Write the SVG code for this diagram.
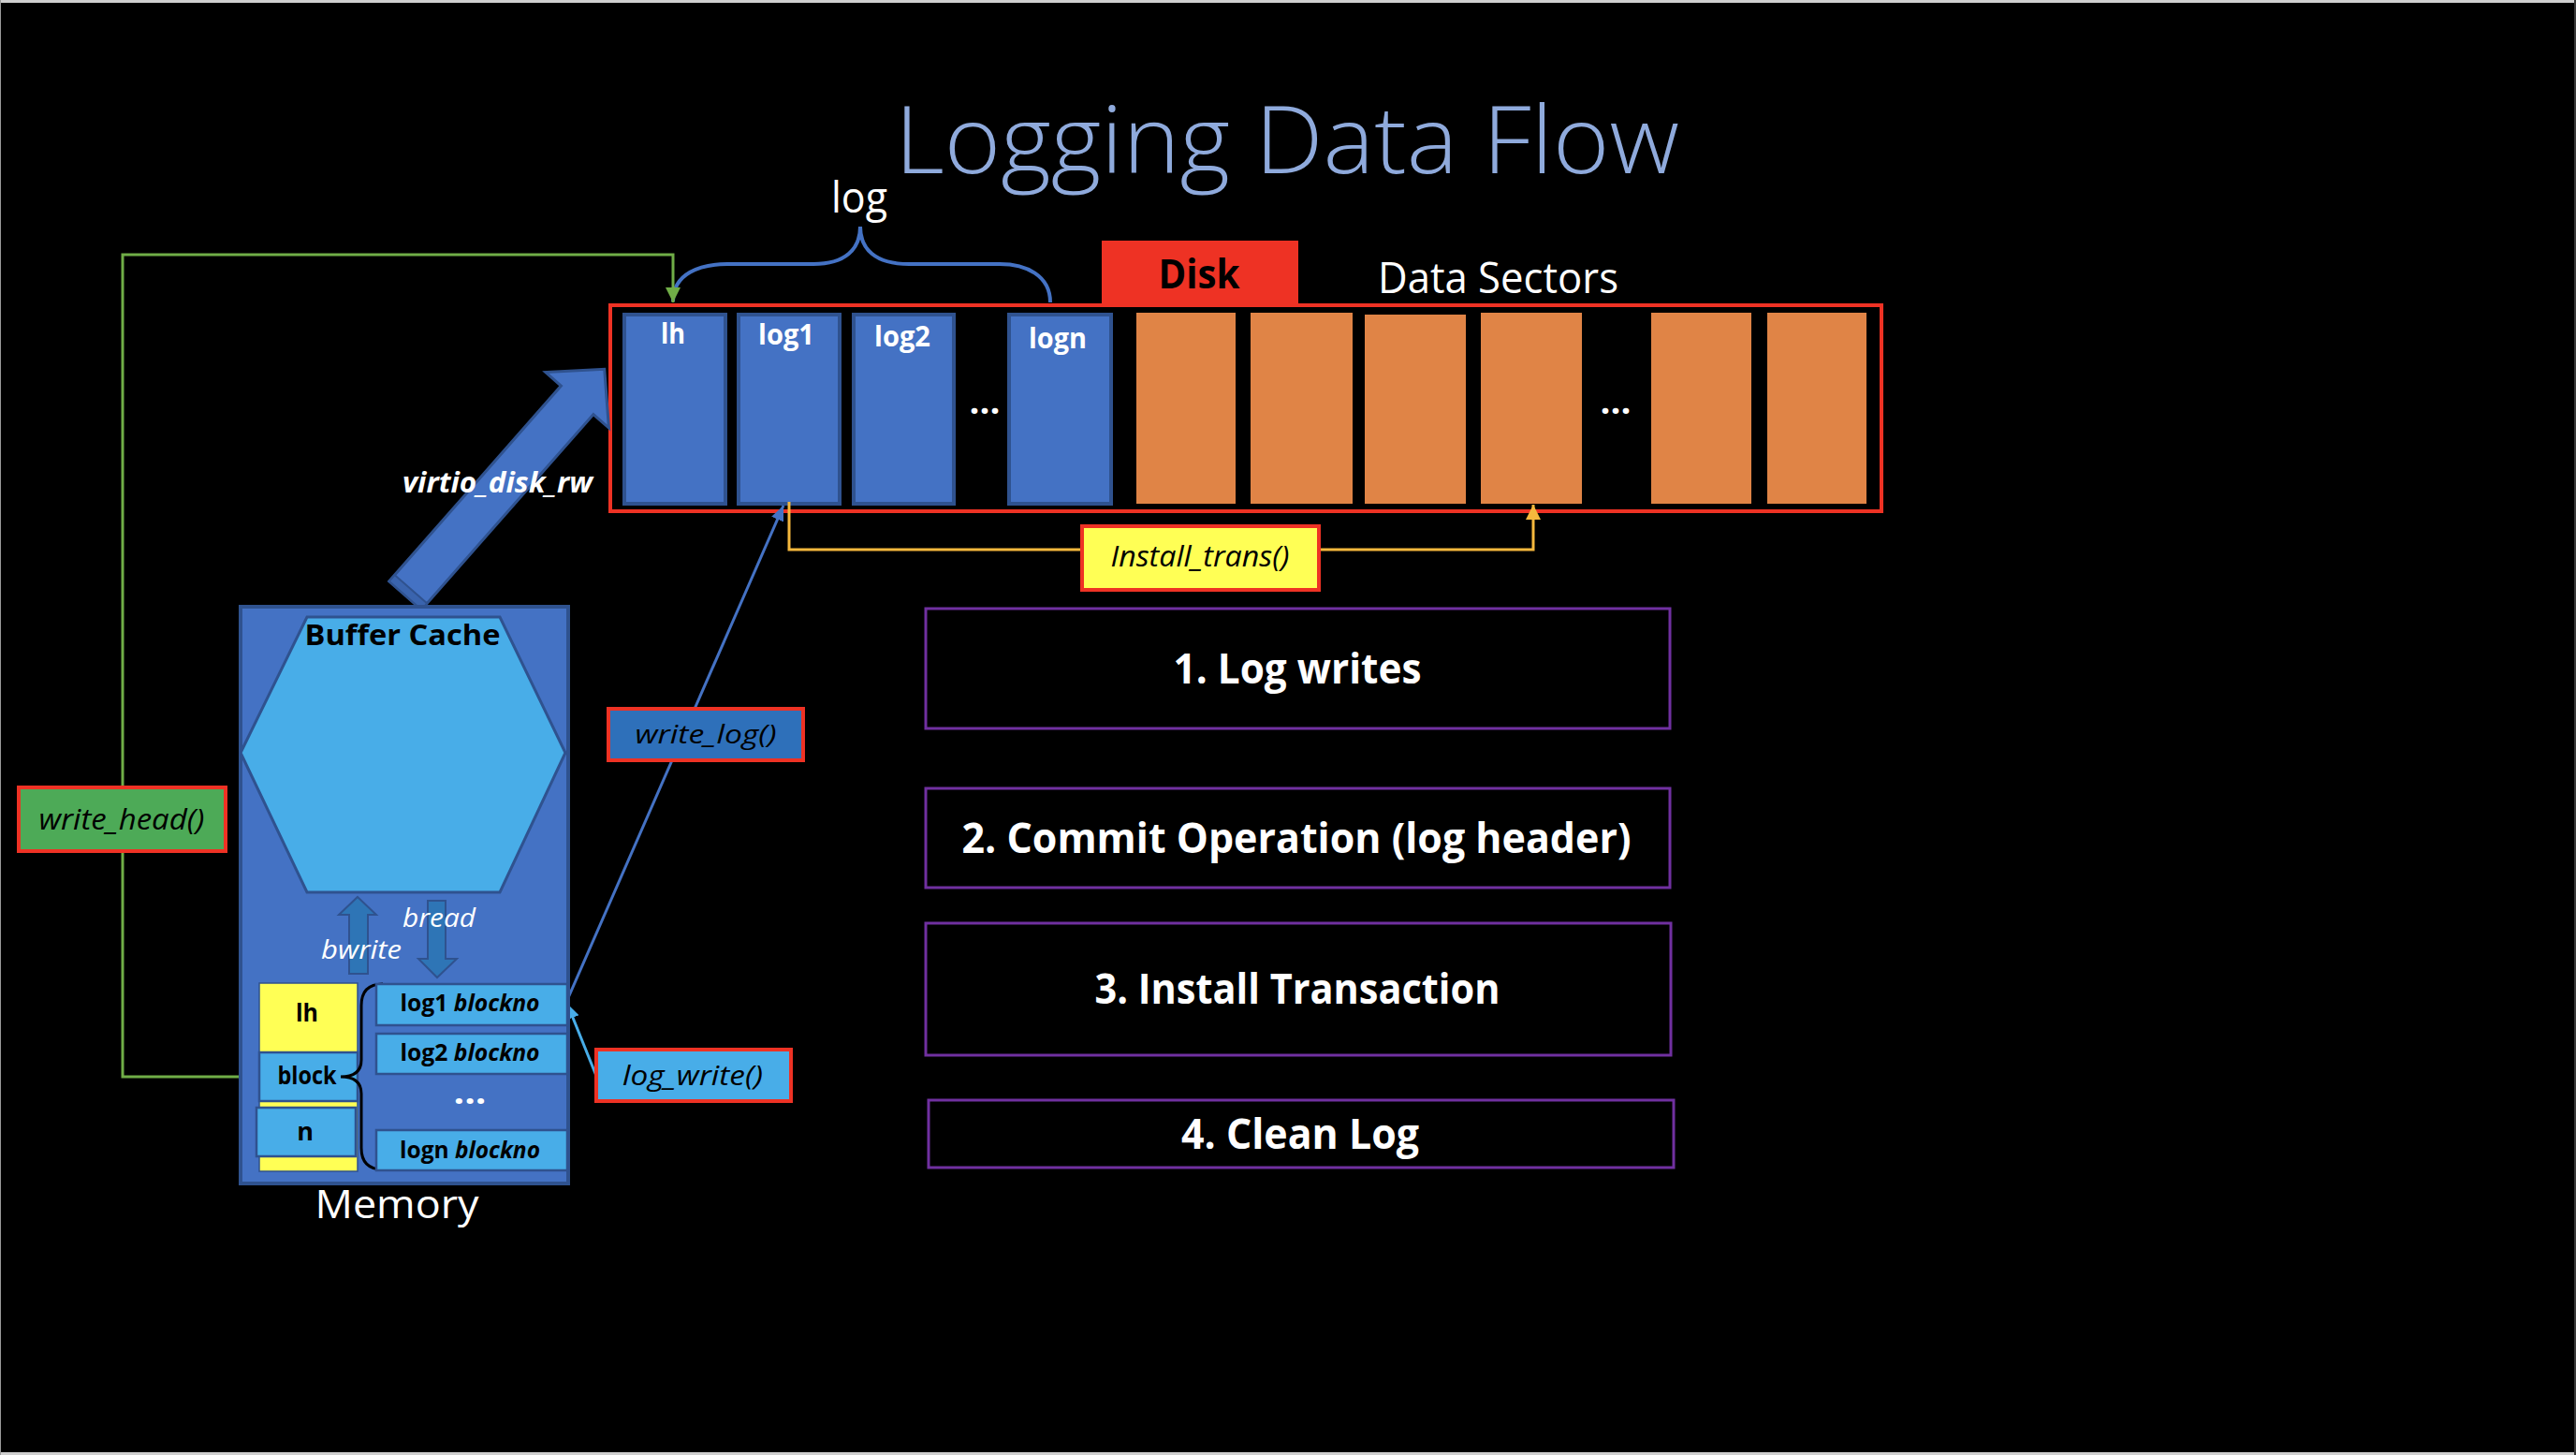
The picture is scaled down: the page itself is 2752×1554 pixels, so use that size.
<svg xmlns="http://www.w3.org/2000/svg" width="2752" height="1554" viewBox="0 0 2752 1554">
<defs>
<style>
text{font-family:"Open Sans","Liberation Sans",sans-serif}
.b{font-weight:700}
.i{font-style:italic}
.w{fill:#fff}
.k{fill:#000}
.blk{fill:#4472C4;stroke:#2F528F;stroke-width:4}
.org{fill:#E08446}
.lb{fill:#48ADE8;stroke:#2F528F;stroke-width:2.5}
.lbl{stroke:#EE3224;stroke-width:4}
.step{fill:none;stroke:#7030A0;stroke-width:3}
.conn{fill:none;stroke-width:3}
</style>
<marker id="mg" markerUnits="userSpaceOnUse" markerWidth="18" markerHeight="18" refX="16" refY="8" orient="auto"><path d="M0,0 L16,8 L0,16 Z" fill="#70AD47"/></marker>
<marker id="mb" markerUnits="userSpaceOnUse" markerWidth="18" markerHeight="16" refX="16" refY="7" orient="auto"><path d="M0,0 L16,7 L0,14 Z" fill="#4472C4"/></marker>
<marker id="ml" markerUnits="userSpaceOnUse" markerWidth="18" markerHeight="16" refX="16" refY="7" orient="auto"><path d="M0,0 L16,7 L0,14 Z" fill="#48ADE8"/></marker>
<marker id="my" markerUnits="userSpaceOnUse" markerWidth="18" markerHeight="18" refX="16" refY="8" orient="auto"><path d="M0,0 L16,8 L0,16 Z" fill="#F5B83D"/></marker>
</defs>
<rect x="0" y="0" width="2752" height="1554" fill="#000"/>
<line x1="0" y1="1.5" x2="2752" y2="1.5" stroke="#CFCFCF" stroke-width="3"/>
<line x1="0" y1="1552.5" x2="2752" y2="1552.5" stroke="#CFCFCF" stroke-width="3"/>
<line x1="0.5" y1="0" x2="0.5" y2="1554" stroke="#9A9A9A" stroke-width="1"/>
<line x1="2751" y1="0" x2="2751" y2="1554" stroke="#3A3A3A" stroke-width="2"/>

<g id="title"><text x="956" y="185" font-size="100" fill="#8FAADC" textLength="838" lengthAdjust="spacingAndGlyphs" font-weight="300">Logging Data Flow</text></g>

<g id="disk">
<rect x="1177" y="257" width="210" height="69" fill="#EE3224"/>
<text class="b k" x="1281" y="308" font-size="43" text-anchor="middle" textLength="87" lengthAdjust="spacingAndGlyphs">Disk</text>
<text class="w" x="1472" y="313" font-size="45" textLength="257" lengthAdjust="spacingAndGlyphs">Data Sectors</text>
<rect x="652" y="326" width="1358" height="220" fill="none" stroke="#EE3224" stroke-width="4"/>
<g id="disk-lh"><rect class="blk" x="667" y="336" width="108" height="202"/><text class="b w" x="719" y="367" font-size="30" text-anchor="middle" textLength="26" lengthAdjust="spacingAndGlyphs">lh</text></g>
<g id="disk-log1"><rect class="blk" x="789" y="336" width="108" height="202"/><text class="b w" x="840" y="368" font-size="30" text-anchor="middle" textLength="60" lengthAdjust="spacingAndGlyphs">log1</text></g>
<g id="disk-log2"><rect class="blk" x="912" y="336" width="107" height="202"/><text class="b w" x="964" y="370" font-size="30" text-anchor="middle" textLength="60" lengthAdjust="spacingAndGlyphs">log2</text></g>
<text class="b w" x="1052" y="442" font-size="38" text-anchor="middle" textLength="33" lengthAdjust="spacingAndGlyphs">...</text>
<g id="disk-logn"><rect class="blk" x="1078" y="336" width="109" height="202"/><text class="b w" x="1130" y="372" font-size="30" text-anchor="middle" textLength="62" lengthAdjust="spacingAndGlyphs">logn</text></g>
<g id="data-sectors">
<rect class="org" x="1214" y="334" width="106" height="204"/>
<rect class="org" x="1336" y="334" width="109" height="204"/>
<rect class="org" x="1458" y="336" width="108" height="202"/>
<rect class="org" x="1582" y="334" width="108" height="204"/>
<text class="b w" x="1726" y="442" font-size="38" text-anchor="middle" textLength="33" lengthAdjust="spacingAndGlyphs">...</text>
<rect class="org" x="1764" y="334" width="107" height="204"/>
<rect class="org" x="1888" y="334" width="106" height="204"/>
</g>
</g>

<g id="log-brace">
<path d="M719,322 C719,292 748,282 777,282 L869,282 C903,282 919,266 919,242 C919,266 935,282 971,282 L1068,282 C1096,282 1122,294 1122,323" fill="none" stroke="#4472C4" stroke-width="4"/>
<text class="w" x="918" y="227" font-size="45" text-anchor="middle" textLength="60" lengthAdjust="spacingAndGlyphs">log</text>
</g>

<g id="connectors">
<polyline class="conn" points="277,1150 131,1150 131,272 719,272 719,323" stroke="#70AD47" marker-end="url(#mg)"/>
<line class="conn" x1="606" y1="1068" x2="837" y2="540" stroke="#4472C4" marker-end="url(#mb)"/>
<line class="conn" x1="637" y1="1149" x2="606" y2="1072" stroke="#48ADE8" marker-end="url(#ml)"/>
<polyline class="conn" points="843,536 843,587 1638,587 1638,539" stroke="#F5B83D" marker-end="url(#my)"/>
<g id="virtio-arrow" transform="translate(433,636) rotate(-48.65)">
<polygon points="0,-23 278,-23 278,-45 322,0 278,45 278,23 0,23" fill="#4472C4" stroke="#2F528F" stroke-width="3"/>
<polygon points="0,-23 9,-23 9,23 0,23" fill="#3A64AE" stroke="#2F528F" stroke-width="2"/>
</g>
<text class="b i w" x="430" y="526" font-size="30" textLength="203" lengthAdjust="spacingAndGlyphs">virtio_disk_rw</text>
</g>

<g id="memory">
<rect class="blk" x="257" y="648" width="350" height="616"/>
<text class="w" x="424" y="1301" font-size="42" text-anchor="middle" textLength="175" lengthAdjust="spacingAndGlyphs">Memory</text>
</g>
<g id="buffer-cache">
<polygon points="257,804 328,659 534,659 604,804 534,953 328,953" fill="#48ADE8" stroke="#2F528F" stroke-width="3"/>
<text class="b k" x="430" y="689" font-size="31" text-anchor="middle" textLength="209" lengthAdjust="spacingAndGlyphs">Buffer Cache</text>
</g>
<g id="bwrite">
<polygon points="382,958 402,977 393,977 393,1040 373,1040 373,977 362,977" fill="#2E75B6" stroke="#2F528F" stroke-width="2"/>
<text class="i w" x="343" y="1024" font-size="28" textLength="86" lengthAdjust="spacingAndGlyphs">bwrite</text>
</g>
<g id="bread">
<polygon points="457,962 476,962 476,1024 488,1024 467,1044 447,1024 457,1024" fill="#2E75B6" stroke="#2F528F" stroke-width="2"/>
<text class="i w" x="430" y="990" font-size="28" textLength="78" lengthAdjust="spacingAndGlyphs">bread</text>
</g>
<g id="log-header">
<rect x="277" y="1050" width="105" height="201" fill="#FFFF55" stroke="#2F528F" stroke-width="1.5"/>
<text class="b k" x="328" y="1091" font-size="27" text-anchor="middle" textLength="24" lengthAdjust="spacingAndGlyphs">lh</text>
<rect class="lb" x="277" y="1124" width="105" height="52"/>
<text class="b k" x="328" y="1158" font-size="27" text-anchor="middle" textLength="63" lengthAdjust="spacingAndGlyphs">block</text>
<rect class="lb" x="274" y="1183" width="106" height="52"/>
<text class="b k" x="326" y="1218" font-size="27" text-anchor="middle">n</text>
<path d="M409,1051 Q386,1051 386,1074 L386,1132 Q386,1150 364,1150 Q386,1150 386,1168 L386,1226 Q386,1249 409,1249" fill="none" stroke="#000" stroke-width="3"/>
</g>
<g id="log1-blockno"><rect class="lb" x="402" y="1051" width="204" height="44"/><text class="b k" x="502" y="1080" font-size="25" text-anchor="middle" textLength="149" lengthAdjust="spacingAndGlyphs">log1 <tspan class="i">blockno</tspan></text></g>
<g id="log2-blockno"><rect class="lb" x="402" y="1104" width="204" height="43"/><text class="b k" x="502" y="1133" font-size="25" text-anchor="middle" textLength="149" lengthAdjust="spacingAndGlyphs">log2 <tspan class="i">blockno</tspan></text></g>
<text class="b w" x="502" y="1179" font-size="36" text-anchor="middle" textLength="35" lengthAdjust="spacingAndGlyphs">...</text>
<g id="logn-blockno"><rect class="lb" x="402" y="1207" width="204" height="43"/><text class="b k" x="502" y="1237" font-size="25" text-anchor="middle" textLength="150" lengthAdjust="spacingAndGlyphs">logn <tspan class="i">blockno</tspan></text></g>

<g id="write-head"><rect class="lbl" x="20" y="841" width="221" height="68" fill="#4DAA57"/><text class="i k" x="130" y="886" font-size="31" text-anchor="middle" textLength="177" lengthAdjust="spacingAndGlyphs">write_head()</text></g>
<g id="write-log"><rect class="lbl" x="650" y="757" width="208" height="55" fill="#2E70BA"/><text class="i k" x="754" y="794" font-size="28" text-anchor="middle" textLength="151" lengthAdjust="spacingAndGlyphs">write_log()</text></g>
<g id="log-write"><rect class="lbl" x="637" y="1121" width="208" height="55" fill="#48ADE8"/><text class="i k" x="740" y="1159" font-size="29" text-anchor="middle" textLength="150" lengthAdjust="spacingAndGlyphs">log_write()</text></g>
<g id="install-trans"><rect class="lbl" x="1156" y="562" width="253" height="68" fill="#FFFF55"/><text class="i k" x="1282" y="605" font-size="31" text-anchor="middle" textLength="191" lengthAdjust="spacingAndGlyphs">Install_trans()</text></g>

<g id="step1"><rect class="step" x="989" y="650" width="795" height="128"/><text class="b w" x="1386" y="730" font-size="45" text-anchor="middle" textLength="265" lengthAdjust="spacingAndGlyphs">1. Log writes</text></g>
<g id="step2"><rect class="step" x="989" y="842" width="795" height="106"/><text class="b w" x="1385" y="911" font-size="45" text-anchor="middle" textLength="715" lengthAdjust="spacingAndGlyphs">2. Commit Operation (log header)</text></g>
<g id="step3"><rect class="step" x="989" y="986" width="796" height="141"/><text class="b w" x="1386" y="1072" font-size="45" text-anchor="middle" textLength="433" lengthAdjust="spacingAndGlyphs">3. Install Transaction</text></g>
<g id="step4"><rect class="step" x="992" y="1175" width="796" height="72"/><text class="b w" x="1389" y="1227" font-size="45" text-anchor="middle" textLength="254" lengthAdjust="spacingAndGlyphs">4. Clean Log</text></g>
</svg>
